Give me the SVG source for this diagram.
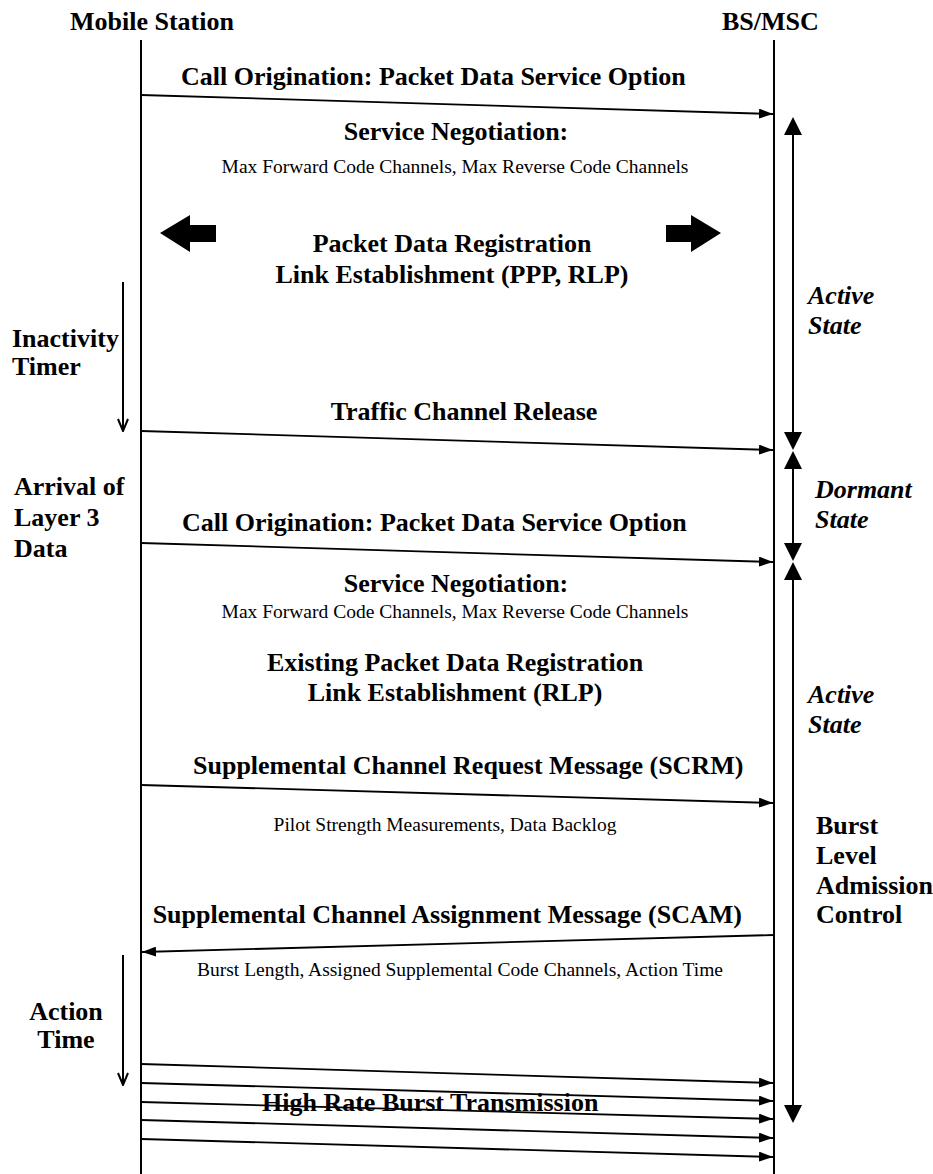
<svg xmlns="http://www.w3.org/2000/svg" width="933" height="1174" viewBox="0 0 933 1174">
<defs>
<marker id="ah" viewBox="0 0 14 10" refX="14" refY="5" markerWidth="14" markerHeight="10" markerUnits="userSpaceOnUse" orient="auto"><path d="M0,0 L14,5 L0,10 z" fill="#000"/></marker>
<marker id="vh" viewBox="0 0 12 14" refX="6" refY="13" markerWidth="12" markerHeight="14" markerUnits="userSpaceOnUse" orient="0"><path d="M1,1 L6,13 L11,1" fill="none" stroke="#000" stroke-width="2"/></marker>
</defs>
<style>
.b{font-family:"Liberation Serif","Times New Roman",serif;font-weight:bold;font-size:26px;fill:#000}
.bi{font-family:"Liberation Serif","Times New Roman",serif;font-weight:bold;font-style:italic;font-size:26px;fill:#000}
.r{font-family:"Liberation Serif","Times New Roman",serif;font-size:19.5px;fill:#000}
.m{text-anchor:middle}
.life{stroke:#000;stroke-width:2;fill:none}
.msg{stroke:#000;stroke-width:1.8;fill:none;marker-end:url(#ah)}
.tm{stroke:#000;stroke-width:2;fill:none;marker-end:url(#vh)}
.st{stroke:#000;stroke-width:2;fill:none}
</style>
<rect width="933" height="1174" fill="#fff"/>
<g id="mobile-station">
<text class="b" x="70" y="30">Mobile Station</text>
<line class="life" x1="141" y1="40" x2="141" y2="1174"/>
</g>
<g id="bs-msc">
<text class="b" x="722" y="30">BS/MSC</text>
<line class="life" x1="774" y1="40" x2="774" y2="1174"/>
</g>
<g id="connectors">
<line class="msg" x1="141" y1="95" x2="773" y2="114"/>
<line class="msg" x1="141" y1="431" x2="773" y2="450"/>
<line class="msg" x1="141" y1="543" x2="773" y2="562"/>
<line class="msg" x1="141" y1="785" x2="773" y2="803"/>
<line class="msg" x1="774" y1="935" x2="142" y2="952"/>
<line class="msg" x1="141" y1="1064" x2="773" y2="1083"/>
<line class="msg" x1="141" y1="1083" x2="773" y2="1101"/>
<line class="msg" x1="141" y1="1102" x2="773" y2="1119"/>
<line class="msg" x1="141" y1="1120" x2="773" y2="1138"/>
<line class="msg" x1="141" y1="1139" x2="773" y2="1157"/>
<line class="tm" x1="123" y1="282" x2="123" y2="431"/>
<line class="tm" x1="123" y1="955" x2="123" y2="1085"/>
</g>
<g id="msg-call-origination-1">
<text class="b" x="181" y="85">Call Origination: Packet Data Service Option</text>
</g>
<g id="service-negotiation-1">
<text class="b m" x="456" y="140">Service Negotiation:</text>
<text class="r m" x="455" y="173">Max Forward Code Channels, Max Reverse Code Channels</text>
</g>
<g id="packet-data-registration">
<polygon points="160,233 190,215 190,225 216,225 216,242 190,242 190,252" fill="#000"/>
<polygon points="721,233 691,215 691,225 666,225 666,242 691,242 691,252" fill="#000"/>
<text class="b m" x="452" y="252">Packet Data Registration</text>
<text class="b m" x="452" y="283">Link Establishment (PPP, RLP)</text>
</g>
<g id="inactivity-timer">
<text class="b" x="12" y="347">Inactivity</text>
<text class="b" x="12" y="375">Timer</text>
</g>
<g id="msg-traffic-channel-release">
<text class="b m" x="464" y="420">Traffic Channel Release</text>
</g>
<g id="arrival-layer3">
<text class="b" x="14" y="495">Arrival of</text>
<text class="b" x="14" y="526">Layer 3</text>
<text class="b" x="14" y="557">Data</text>
</g>
<g id="msg-call-origination-2">
<text class="b" x="182" y="531">Call Origination: Packet Data Service Option</text>
</g>
<g id="service-negotiation-2">
<text class="b m" x="456" y="592">Service Negotiation:</text>
<text class="r m" x="455" y="618">Max Forward Code Channels, Max Reverse Code Channels</text>
</g>
<g id="existing-registration">
<text class="b m" x="455" y="671">Existing Packet Data Registration</text>
<text class="b m" x="455" y="701">Link Establishment (RLP)</text>
</g>
<g id="msg-scrm">
<text class="b" x="193" y="774">Supplemental Channel Request Message (SCRM)</text>
<text class="r m" x="445" y="831">Pilot Strength Measurements, Data Backlog</text>
</g>
<g id="msg-scam">
<text class="b" x="742" y="923" text-anchor="end">Supplemental Channel Assignment Message (SCAM)</text>
<text class="r m" x="460" y="976">Burst Length, Assigned Supplemental Code Channels, Action Time</text>
</g>
<g id="action-time">
<text class="b m" x="66" y="1020">Action</text>
<text class="b m" x="66" y="1048">Time</text>
</g>
<g id="msg-burst">
<text class="b" x="262" y="1111">High Rate Burst Transmission</text>
</g>
<g id="state-active-1">
<line class="st" x1="793" y1="130" x2="793" y2="436"/>
<polygon points="793,117 784,135 802,135" fill="#000"/>
<polygon points="793,450 784,432 802,432" fill="#000"/>
<text class="bi" x="808" y="304">Active</text>
<text class="bi" x="808" y="334">State</text>
</g>
<g id="state-dormant">
<line class="st" x1="793" y1="465" x2="793" y2="548"/>
<polygon points="793,451 784,469 802,469" fill="#000"/>
<polygon points="793,561 784,543 802,543" fill="#000"/>
<text class="bi" x="815" y="498">Dormant</text>
<text class="bi" x="815" y="528">State</text>
</g>
<g id="state-active-2">
<line class="st" x1="793" y1="575" x2="793" y2="1110"/>
<polygon points="793,562 784,580 802,580" fill="#000"/>
<polygon points="793,1123 784,1105 802,1105" fill="#000"/>
<text class="bi" x="808" y="703">Active</text>
<text class="bi" x="808" y="733">State</text>
</g>
<g id="burst-admission">
<text class="b" x="816" y="834">Burst</text>
<text class="b" x="816" y="864">Level</text>
<text class="b" x="816" y="894">Admission</text>
<text class="b" x="816" y="923">Control</text>
</g>
</svg>
